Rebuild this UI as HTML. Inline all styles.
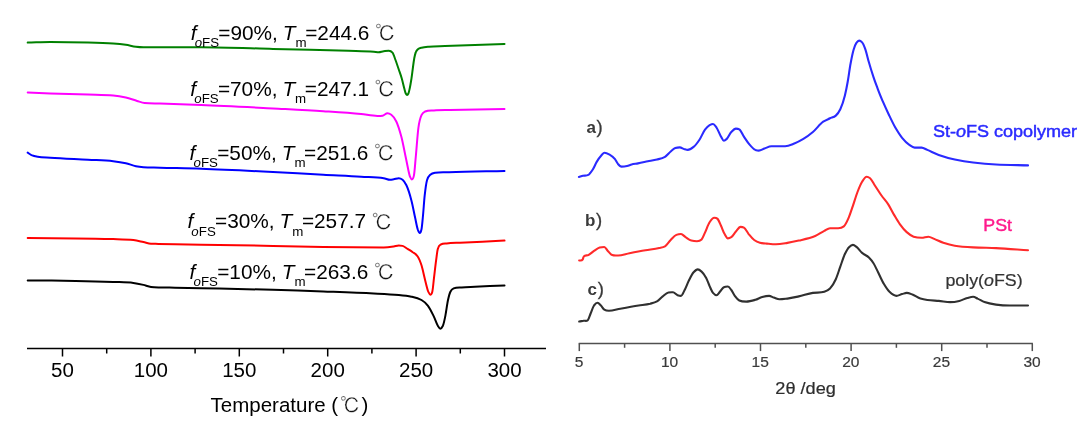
<!DOCTYPE html>
<html lang="en"><head><meta charset="utf-8"><title>DSC and XRD curves</title>
<style>
html,body{margin:0;padding:0;background:#fff;}
body{width:1092px;height:437px;overflow:hidden;font-family:"Liberation Sans","Noto Serif CJK SC",sans-serif;}
svg{display:block;}
.l{font-family:"Liberation Sans",sans-serif;font-size:20.8px;fill:#000;}
.sub{font-size:13.3px;}
.c{font-family:"Liberation Sans","IPAGothic","Noto Sans CJK JP",sans-serif;fill:#111;stroke:#fff;stroke-width:0.3px;}
.tk{font-family:"Liberation Sans",sans-serif;font-size:20.5px;fill:#000;text-anchor:middle;}
.rt{font-family:"Liberation Sans",sans-serif;font-size:14px;fill:#3a3a3a;text-anchor:middle;}
.cv{fill:none;stroke-width:2;stroke-linejoin:round;stroke-linecap:round;}
</style></head><body>
<svg width="1092" height="437" viewBox="0 0 1092 437">
<rect width="1092" height="437" fill="#fff"/>

<g class="cv">
<path d="M27.7 42.6C35.2 42.4 42.8 41.9 50.3 41.9C62.9 41.9 75.4 42.1 88.0 42.4C96.4 42.6 104.8 42.8 113.2 43.4C117.4 43.7 121.6 44.1 125.8 44.7C129.2 45.2 132.5 46.3 135.9 46.7C138.4 47.0 140.9 47.2 143.4 47.2C148.9 47.2 154.5 47.2 160.0 47.2C173.8 47.2 187.5 47.2 201.3 47.2C225.2 47.2 249.1 48.3 273.0 48.9C298.2 49.5 323.3 49.9 348.5 50.7C356.9 51.0 365.3 51.1 373.7 51.7C375.4 51.8 377.0 52.2 378.7 52.2C380.4 52.2 382.0 51.4 383.7 51.2C385.4 51.0 387.1 50.7 388.8 50.7C390.0 50.7 391.3 51.2 392.5 52.7C393.5 53.9 394.5 57.3 395.5 60.0C396.5 62.7 397.6 66.0 398.6 69.0C399.6 72.0 400.7 74.7 401.7 78.3C402.6 81.3 403.4 85.4 404.3 88.5C404.8 90.3 405.3 92.5 405.8 93.5C406.2 94.3 406.7 95.0 407.1 95.0C407.5 95.0 408.0 94.4 408.4 93.5C408.9 92.5 409.3 90.2 409.8 88.0C410.4 85.3 410.9 82.0 411.5 78.3C412.0 75.0 412.5 70.6 413.0 67.0C413.4 63.9 413.9 60.3 414.3 58.0C414.8 55.5 415.2 53.7 415.7 52.5C416.4 50.6 417.2 50.0 417.9 49.3C419.1 48.2 420.3 48.0 421.5 47.7C424.0 47.0 426.5 46.9 429.0 46.7C434.3 46.3 439.7 46.3 445.0 46.1C464.8 45.4 484.7 44.6 504.5 43.9" stroke="#008000"/>
<path d="M27.7 92.5C35.2 92.8 42.8 93.2 50.3 93.5C62.9 93.9 75.4 94.1 88.0 94.5C96.4 94.8 104.8 94.7 113.2 95.5C117.4 95.9 121.6 96.6 125.8 97.5C129.6 98.3 133.3 99.9 137.1 101.0C139.6 101.7 142.2 102.7 144.7 103.0C149.8 103.7 154.9 103.4 160.0 103.6C173.8 104.1 187.5 104.5 201.3 105.0C225.2 105.9 249.1 107.2 273.0 108.4C289.8 109.3 306.5 110.1 323.3 111.2C335.9 112.0 348.5 112.7 361.1 114.0C366.5 114.6 372.0 116.0 377.4 116.0C379.1 116.0 380.8 116.0 382.5 115.7C384.2 115.4 385.8 113.2 387.5 113.2C388.8 113.2 390.0 113.8 391.3 114.7C393.0 115.9 394.6 118.1 396.3 121.5C398.0 124.9 399.6 130.3 401.3 136.6C403.0 143.0 404.7 152.8 406.4 160.5C407.6 166.1 408.9 174.2 410.1 176.9C410.7 178.2 411.3 179.4 411.9 179.4C412.6 179.4 413.2 178.7 413.9 175.6C414.6 172.5 415.2 162.5 415.9 155.5C416.7 146.7 417.6 133.6 418.4 127.8C419.4 120.6 420.5 117.4 421.5 115.2C422.7 112.5 424.0 112.1 425.2 111.5C428.1 110.0 431.1 110.6 434.0 110.4C439.3 110.0 444.7 110.1 450.0 110.0C468.2 109.6 486.3 109.3 504.5 108.9" stroke="#ff00ff"/>
<path d="M27.7 152.6C29.0 153.5 30.2 154.6 31.5 155.2C33.6 156.1 35.6 156.4 37.7 156.7C41.9 157.4 46.1 157.4 50.3 157.7C62.9 158.6 75.4 159.0 88.0 159.7C96.4 160.2 104.8 160.3 113.2 161.2C117.4 161.7 121.6 162.3 125.8 163.2C129.2 163.9 132.5 165.6 135.9 166.2C138.4 166.7 140.9 167.0 143.4 167.2C148.9 167.6 154.5 167.5 160.0 167.7C173.8 168.1 187.5 168.3 201.3 168.8C225.2 169.6 249.1 170.8 273.0 172.0C289.8 172.8 306.5 173.8 323.3 174.7C335.9 175.4 348.5 175.9 361.1 176.7C368.6 177.2 376.2 177.0 383.7 178.2C385.8 178.5 387.9 179.8 390.0 179.8C391.3 179.8 392.5 179.5 393.8 179.3C395.5 179.0 397.1 178.2 398.8 178.2C400.1 178.2 401.3 178.8 402.6 179.8C403.9 180.8 405.1 182.7 406.4 185.3C408.1 188.7 409.7 194.0 411.4 200.4C412.7 205.2 413.9 212.2 415.2 218.0C416.0 221.8 416.9 226.9 417.7 229.3C418.4 231.2 419.0 233.1 419.7 233.1C420.3 233.1 420.9 232.1 421.5 229.3C422.0 226.9 422.5 220.7 423.0 215.5C423.6 209.6 424.1 200.5 424.7 195.4C425.5 188.4 426.2 183.1 427.0 180.3C428.1 176.3 429.2 175.7 430.3 174.7C432.0 173.2 433.6 173.0 435.3 172.7C439.9 171.8 444.5 172.3 449.1 172.2C467.6 171.6 486.0 171.4 504.5 171.0" stroke="#0000ff"/>
<path d="M27.7 238.1C43.6 238.2 59.6 238.2 75.5 238.4C88.1 238.5 100.6 238.7 113.2 239.1C119.9 239.3 126.7 239.3 133.4 240.1C136.7 240.5 140.1 241.4 143.4 242.1C145.9 242.6 148.5 243.5 151.0 243.7C153.5 243.9 156.0 243.8 158.5 243.9C164.0 244.0 169.5 244.1 175.0 244.2C183.8 244.4 192.5 244.5 201.3 244.7C225.2 245.1 249.1 245.5 273.0 245.9C289.8 246.2 306.5 246.7 323.3 246.9C343.4 247.2 363.6 247.4 383.7 247.4C387.1 247.4 390.4 246.9 393.8 246.4C395.5 246.1 397.1 245.4 398.8 245.4C400.1 245.4 401.3 245.6 402.6 245.9C404.3 246.4 405.9 247.9 407.6 248.9C409.3 250.0 411.0 250.9 412.7 252.2C414.4 253.4 416.0 254.0 417.7 256.5C419.0 258.4 420.2 261.4 421.5 265.3C422.7 269.1 424.0 275.7 425.2 280.4C426.2 284.4 427.3 289.4 428.3 291.7C429.0 293.2 429.6 294.7 430.3 294.7C431.0 294.7 431.6 294.3 432.3 291.7C432.9 289.5 433.4 282.6 434.0 277.9C434.7 272.1 435.4 265.5 436.1 260.3C436.7 256.1 437.2 251.0 437.8 248.9C438.9 244.9 440.0 245.1 441.1 244.4C442.9 243.2 444.8 243.6 446.6 243.4C451.1 242.9 455.5 242.9 460.0 242.7C474.8 242.0 489.7 241.3 504.5 240.6" stroke="#ff0000"/>
<path d="M27.7 280.4C43.6 280.6 59.6 280.6 75.5 280.9C88.1 281.1 100.6 281.4 113.2 281.9C119.9 282.2 126.7 282.1 133.4 282.9C136.7 283.3 140.1 284.1 143.4 284.9C145.9 285.5 148.5 286.6 151.0 286.9C153.5 287.2 156.0 287.3 158.5 287.4C164.0 287.6 169.5 287.6 175.0 287.7C183.8 287.9 192.5 288.0 201.3 288.2C225.2 288.7 249.1 289.1 273.0 289.8C289.8 290.3 306.5 290.9 323.3 291.5C340.1 292.1 356.9 292.6 373.7 293.5C382.1 293.9 390.4 294.2 398.8 295.0C403.0 295.4 407.2 295.8 411.4 296.7C414.8 297.4 418.1 298.0 421.5 300.0C423.6 301.2 425.7 302.9 427.8 305.6C429.9 308.2 431.9 312.6 434.0 316.9C435.3 319.6 436.5 323.7 437.8 325.7C438.6 327.0 439.5 328.7 440.3 328.7C441.2 328.7 442.0 327.6 442.9 325.7C443.7 323.9 444.6 319.7 445.4 315.6C446.2 311.5 447.1 304.3 447.9 300.5C448.7 296.7 449.6 293.4 450.4 291.7C451.5 289.5 452.6 288.9 453.7 288.4C456.4 287.1 459.0 287.6 461.7 287.4C466.1 287.0 470.6 287.0 475.0 286.8C484.8 286.3 494.7 285.9 504.5 285.4" stroke="#000000"/>
</g>
<g stroke="#000" stroke-width="1.5" fill="none">
<path d="M27 348.5H546"/>
<path d="M62.5 348.5V356.5"/>
<path d="M150.9 348.5V356.5"/>
<path d="M239.3 348.5V356.5"/>
<path d="M327.7 348.5V356.5"/>
<path d="M416.1 348.5V356.5"/>
<path d="M504.5 348.5V356.5"/>
<path d="M106.7 348.5V353.5"/>
<path d="M195.1 348.5V353.5"/>
<path d="M283.5 348.5V353.5"/>
<path d="M371.9 348.5V353.5"/>
<path d="M460.3 348.5V353.5"/>
</g>
<text class="tk" x="62.5" y="377.4">50</text>
<text class="tk" x="150.9" y="377.4">100</text>
<text class="tk" x="239.3" y="377.4">150</text>
<text class="tk" x="327.7" y="377.4">200</text>
<text class="tk" x="416.1" y="377.4">250</text>
<text class="tk" x="504.5" y="377.4">300</text>
<text class="l" x="210.6" y="412" style="font-size:20.5px">Temperature (<tspan class="c" x="340" dy="1.2">℃</tspan><tspan x="361.5" dy="-1.2">)</tspan></text>
<text class="l" transform="translate(0.0 39.5)"><tspan x="190.7" font-style="italic">f</tspan><tspan class="sub" dy="7.5" dx="-1.8"><tspan font-style="italic">o</tspan>FS</tspan><tspan dy="-7.5" x="218.3">=90%, </tspan><tspan font-style="italic" x="282.8">T</tspan><tspan class="sub" dy="7.5">m</tspan><tspan dy="-7.5" x="305.2">=244.6 </tspan><tspan class="c" x="375.0" dy="1.5">℃</tspan></text>
<text class="l" transform="translate(-0.4 95.5)"><tspan x="190.7" font-style="italic">f</tspan><tspan class="sub" dy="7.5" dx="-1.8"><tspan font-style="italic">o</tspan>FS</tspan><tspan dy="-7.5" x="218.3">=70%, </tspan><tspan font-style="italic" x="282.8">T</tspan><tspan class="sub" dy="7.5">m</tspan><tspan dy="-7.5" x="305.2">=247.1 </tspan><tspan class="c" x="375.0" dy="1.5">℃</tspan></text>
<text class="l" transform="translate(-1.1 159.5)"><tspan x="190.7" font-style="italic">f</tspan><tspan class="sub" dy="7.5" dx="-1.8"><tspan font-style="italic">o</tspan>FS</tspan><tspan dy="-7.5" x="218.3">=50%, </tspan><tspan font-style="italic" x="282.8">T</tspan><tspan class="sub" dy="7.5">m</tspan><tspan dy="-7.5" x="305.2">=251.6 </tspan><tspan class="c" x="375.0" dy="1.5">℃</tspan></text>
<text class="l" transform="translate(-3.3 228.0)"><tspan x="190.7" font-style="italic">f</tspan><tspan class="sub" dy="7.5" dx="-1.8"><tspan font-style="italic">o</tspan>FS</tspan><tspan dy="-7.5" x="218.3">=30%, </tspan><tspan font-style="italic" x="282.8">T</tspan><tspan class="sub" dy="7.5">m</tspan><tspan dy="-7.5" x="305.2">=257.7 </tspan><tspan class="c" x="375.0" dy="1.5">℃</tspan></text>
<text class="l" transform="translate(-1.1 278.6)"><tspan x="190.7" font-style="italic">f</tspan><tspan class="sub" dy="7.5" dx="-1.8"><tspan font-style="italic">o</tspan>FS</tspan><tspan dy="-7.5" x="218.3">=10%, </tspan><tspan font-style="italic" x="282.8">T</tspan><tspan class="sub" dy="7.5">m</tspan><tspan dy="-7.5" x="305.2">=263.6 </tspan><tspan class="c" x="375.0" dy="1.5">℃</tspan></text>
<g class="cv" style="stroke-width:2.1">
<path d="M578.9 177.0C580.3 176.6 581.6 176.1 583.0 175.8C584.8 175.4 586.5 175.9 588.3 174.9C589.1 174.5 589.8 173.4 590.6 172.5C591.4 171.5 592.3 170.4 593.1 169.0C594.3 167.0 595.5 163.9 596.7 161.9C598.2 159.3 599.8 157.1 601.3 155.5C602.4 154.4 603.4 152.8 604.5 152.8C606.2 152.8 607.9 153.7 609.6 154.6C611.4 155.6 613.2 156.9 615.0 159.2C615.9 160.4 616.9 162.6 617.8 163.7C619.0 165.1 620.3 166.6 621.5 166.6C623.3 166.6 625.2 166.4 627.0 166.0C628.5 165.7 630.1 164.9 631.6 164.5C633.7 164.0 635.9 163.8 638.0 163.4C641.3 162.8 644.5 162.0 647.8 161.3C650.9 160.7 653.9 160.3 657.0 159.5C659.7 158.8 662.3 158.4 665.0 156.8C666.9 155.7 668.8 153.1 670.7 151.5C672.2 150.2 673.8 148.6 675.3 148.1C676.8 147.6 678.3 147.4 679.8 147.4C681.3 147.4 682.9 148.8 684.4 149.2C685.5 149.5 686.7 149.9 687.8 149.9C689.7 149.9 691.7 148.4 693.6 146.9C695.5 145.4 697.4 142.8 699.3 140.0C701.2 137.2 703.1 132.2 705.0 129.7C706.5 127.7 708.1 126.1 709.6 125.2C710.7 124.6 711.9 124.0 713.0 124.0C714.2 124.0 715.3 125.9 716.5 127.5C718.0 129.6 719.5 134.1 721.0 136.6C721.9 138.2 722.9 140.7 723.8 140.7C724.8 140.7 725.8 139.8 726.8 138.9C728.3 137.5 729.8 133.6 731.3 132.0C732.8 130.4 734.4 128.6 735.9 128.6C737.0 128.6 738.2 128.7 739.3 129.3C740.8 130.2 742.4 134.3 743.9 136.6C745.8 139.4 747.7 142.4 749.6 144.6C751.5 146.8 753.5 149.1 755.4 149.9C756.5 150.3 757.7 150.6 758.8 150.6C760.7 150.6 762.6 149.2 764.5 148.5C766.8 147.7 769.1 146.2 771.4 146.2C776.0 146.2 780.5 146.2 785.1 146.2C788.2 146.2 791.2 144.7 794.3 143.5C797.3 142.3 800.4 140.7 803.4 138.9C806.6 137.0 809.7 134.7 812.9 132.0C816.3 129.1 819.8 124.0 823.2 121.7C825.5 120.2 827.7 119.4 830.0 118.3C831.9 117.4 833.9 117.3 835.8 115.6C837.3 114.3 838.8 112.3 840.3 109.2C841.8 106.0 843.4 101.6 844.9 95.5C845.8 91.8 846.8 87.0 847.7 81.8C848.7 76.4 849.6 68.7 850.6 63.5C851.6 58.1 852.6 53.0 853.6 49.7C854.5 46.6 855.5 44.2 856.4 42.9C857.3 41.6 858.2 40.6 859.1 40.6C860.1 40.6 861.1 41.3 862.1 42.4C863.1 43.5 864.1 45.9 865.1 48.6C866.4 52.0 867.6 58.0 868.9 62.3C870.4 67.6 872.0 72.6 873.5 77.2C875.0 81.8 876.6 85.8 878.1 89.8C879.6 93.8 881.2 97.6 882.7 101.2C884.6 105.6 886.5 109.7 888.4 113.7C890.7 118.5 893.0 123.5 895.3 127.5C897.6 131.4 899.8 135.0 902.1 137.8C904.4 140.6 906.7 143.0 909.0 144.6C910.9 145.9 912.8 147.6 914.7 147.6C917.0 147.6 919.3 147.6 921.6 147.6C923.5 147.6 925.4 149.1 927.3 149.9C931.1 151.5 934.9 153.5 938.7 154.9C944.1 156.8 949.4 158.3 954.8 159.5C960.9 160.8 967.0 161.8 973.1 162.5C980.7 163.4 988.4 164.1 996.0 164.5C1006.7 165.1 1017.3 165.1 1028.0 165.4" stroke="#2a2aff"/>
<path d="M579.2 260.5C580.3 260.2 581.5 261.1 582.6 259.6C583.0 259.1 583.3 257.2 583.7 256.7C585.2 254.5 586.8 255.9 588.3 255.1C590.2 254.2 592.1 252.2 594.0 250.9C595.9 249.6 597.8 248.0 599.7 247.5C601.2 247.1 602.8 247.0 604.3 247.0C605.5 247.0 606.6 249.7 607.8 250.9C609.3 252.4 610.8 254.6 612.3 255.1C614.2 255.8 616.2 255.5 618.1 255.5C621.9 255.5 625.7 253.9 629.5 253.2C634.8 252.2 640.2 251.2 645.5 250.3C650.1 249.5 654.6 249.0 659.2 248.0C661.1 247.6 663.1 247.5 665.0 246.4C666.9 245.3 668.8 241.9 670.7 240.0C672.6 238.1 674.5 235.7 676.4 234.9C677.9 234.3 679.5 234.0 681.0 234.0C682.5 234.0 684.1 236.2 685.6 237.2C687.5 238.4 689.4 240.1 691.3 240.6C693.2 241.1 695.1 241.3 697.0 241.3C698.5 241.3 700.1 241.0 701.6 239.5C702.7 238.4 703.9 235.0 705.0 232.6C706.5 229.3 708.1 224.6 709.6 222.3C711.1 220.0 712.7 217.8 714.2 217.8C715.3 217.8 716.5 217.9 717.6 218.9C718.7 219.9 719.9 223.4 721.0 225.8C722.2 228.3 723.3 231.8 724.5 233.8C725.6 235.8 726.8 238.4 727.9 238.4C729.0 238.4 730.2 237.9 731.3 237.2C732.8 236.2 734.4 233.2 735.9 231.5C737.4 229.8 739.0 226.9 740.5 226.9C741.6 226.9 742.8 227.0 743.9 227.6C745.4 228.4 747.0 231.9 748.5 233.8C750.4 236.1 752.3 238.6 754.2 240.0C756.1 241.4 758.0 242.2 759.9 242.7C762.2 243.3 764.5 243.4 766.8 243.6C769.8 243.9 772.9 244.3 775.9 244.3C779.7 244.3 783.6 243.5 787.4 242.9C791.2 242.3 795.0 241.5 798.8 240.6C804.3 239.3 809.7 238.3 815.2 236.0C818.2 234.7 821.3 232.4 824.3 230.9C826.2 229.9 828.1 228.2 830.0 228.2C832.7 228.2 835.4 228.2 838.1 228.2C840.0 228.2 841.9 228.0 843.8 226.4C845.3 225.1 846.9 221.8 848.4 218.4C849.9 215.1 851.4 210.1 852.9 205.8C854.4 201.4 856.0 196.0 857.5 192.0C859.0 188.0 860.6 184.1 862.1 181.7C863.6 179.3 865.2 176.7 866.7 176.7C867.8 176.7 869.0 177.4 870.1 178.3C871.6 179.5 873.2 182.9 874.7 185.2C877.0 188.6 879.2 192.3 881.5 195.5C883.8 198.8 886.1 201.0 888.4 204.6C890.3 207.6 892.2 211.7 894.1 214.9C896.0 218.1 897.9 221.5 899.8 224.1C902.1 227.3 904.4 230.1 906.7 232.1C909.0 234.1 911.3 235.9 913.6 236.7C916.3 237.6 918.9 237.8 921.6 237.8C923.9 237.8 926.1 236.7 928.4 236.7C930.3 236.7 932.3 238.1 934.2 238.9C937.2 240.1 940.3 241.8 943.3 242.8C947.1 244.1 951.0 245.2 954.8 245.8C960.9 246.8 967.0 247.1 973.1 247.4C980.7 247.8 988.4 247.8 996.0 248.1C1006.7 248.6 1017.3 249.5 1028.0 250.2" stroke="#ff2a2a"/>
<path d="M579.2 321.5C580.7 321.3 582.2 321.0 583.7 320.8C585.1 320.6 586.4 321.4 587.8 320.2C588.7 319.4 589.7 315.7 590.6 313.5C591.7 310.8 592.9 307.1 594.0 305.5C595.2 303.9 596.3 302.8 597.5 302.8C598.6 302.8 599.8 304.4 600.9 305.5C602.0 306.6 603.2 308.9 604.3 309.6C605.8 310.6 607.4 310.8 608.9 310.8C612.7 310.8 616.5 309.4 620.3 308.7C626.4 307.6 632.5 306.5 638.6 305.5C642.4 304.9 646.3 304.6 650.1 303.7C652.4 303.1 654.7 302.7 657.0 301.4C658.9 300.3 660.8 297.9 662.7 296.4C664.6 294.9 666.5 292.9 668.4 292.5C669.9 292.1 671.5 292.2 673.0 292.2C674.5 292.2 676.1 294.7 677.6 295.2C678.7 295.6 679.9 295.9 681.0 295.9C682.1 295.9 683.3 292.7 684.4 290.6C685.9 287.8 687.5 283.3 689.0 280.3C690.5 277.3 692.1 274.0 693.6 272.3C695.0 270.8 696.3 269.4 697.7 269.4C699.0 269.4 700.3 270.5 701.6 271.6C703.1 272.9 704.7 275.2 706.2 278.1C707.3 280.2 708.5 283.6 709.6 286.1C710.7 288.6 711.9 291.6 713.0 292.9C714.2 294.3 715.3 295.2 716.5 295.2C717.6 295.2 718.8 293.0 719.9 291.8C721.2 290.4 722.5 287.8 723.8 287.2C725.2 286.5 726.5 286.5 727.9 286.5C729.0 286.5 730.2 288.5 731.3 290.0C732.5 291.5 733.6 294.3 734.8 295.9C736.3 297.9 737.8 299.8 739.3 300.5C741.6 301.6 743.9 301.6 746.2 301.6C749.3 301.6 752.3 300.7 755.4 299.8C757.7 299.1 759.9 297.6 762.2 297.0C764.5 296.4 766.8 295.9 769.1 295.9C770.6 295.9 772.2 297.0 773.7 297.5C775.6 298.1 777.5 299.3 779.4 299.3C782.1 299.3 784.7 298.9 787.4 298.6C791.2 298.1 795.0 297.2 798.8 296.4C803.5 295.4 808.2 293.6 812.9 292.9C816.7 292.3 820.5 293.0 824.3 291.8C826.2 291.2 828.1 290.3 830.0 288.4C831.9 286.5 833.9 283.4 835.8 279.2C837.3 276.0 838.8 270.8 840.3 266.6C841.8 262.4 843.4 257.2 844.9 254.0C846.3 251.1 847.6 248.6 849.0 247.2C850.3 245.9 851.6 244.9 852.9 244.9C854.2 244.9 855.5 246.2 856.8 247.2C858.6 248.6 860.3 251.4 862.1 252.9C864.4 254.9 866.6 255.3 868.9 257.5C870.4 259.0 872.0 260.8 873.5 263.2C875.0 265.6 876.6 269.2 878.1 272.3C880.0 276.1 881.9 280.6 883.8 283.8C885.7 287.0 887.6 290.0 889.5 291.8C891.8 294.0 894.1 295.9 896.4 295.9C898.3 295.9 900.2 294.6 902.1 294.1C903.6 293.7 905.2 292.9 906.7 292.9C908.6 292.9 910.5 293.8 912.4 294.5C915.1 295.5 917.7 297.8 920.4 298.6C922.7 299.3 925.0 299.7 927.3 300.0C931.1 300.5 934.9 300.6 938.7 300.9C942.5 301.2 946.4 302.1 950.2 302.1C953.2 302.1 956.3 301.6 959.3 300.9C962.0 300.3 964.6 298.7 967.3 298.0C969.2 297.5 971.2 296.8 973.1 296.8C974.6 296.8 976.1 297.9 977.6 298.6C979.9 299.6 982.2 301.3 984.5 302.1C988.3 303.5 992.2 304.1 996.0 304.6C1000.6 305.2 1005.1 305.5 1009.7 305.5C1015.8 305.5 1021.9 305.5 1028.0 305.5" stroke="#303030"/>
</g>
<g stroke="#505050" stroke-width="1.5" fill="none">
<path d="M578.7 343.4H1032.9"/>
<path d="M579.3 343.4V351.1"/>
<path d="M669.9 343.4V351.1"/>
<path d="M760.5 343.4V351.1"/>
<path d="M851.1 343.4V351.1"/>
<path d="M941.7 343.4V351.1"/>
<path d="M1032.3 343.4V351.1"/>
<path d="M624.6 343.4V347.8"/>
<path d="M715.2 343.4V347.8"/>
<path d="M805.8 343.4V347.8"/>
<path d="M896.4 343.4V347.8"/>
<path d="M987.0 343.4V347.8"/>
</g>
<text transform="translate(579.0 366.9) scale(1.070 1)" text-anchor="middle" style="font-size:14.5px;fill:#3a3a3a;stroke:#3a3a3a;stroke-width:0.2px">5</text>
<text transform="translate(669.6 366.9) scale(1.070 1)" text-anchor="middle" style="font-size:14.5px;fill:#3a3a3a;stroke:#3a3a3a;stroke-width:0.2px">10</text>
<text transform="translate(760.2 366.9) scale(1.070 1)" text-anchor="middle" style="font-size:14.5px;fill:#3a3a3a;stroke:#3a3a3a;stroke-width:0.2px">15</text>
<text transform="translate(850.8 366.9) scale(1.070 1)" text-anchor="middle" style="font-size:14.5px;fill:#3a3a3a;stroke:#3a3a3a;stroke-width:0.2px">20</text>
<text transform="translate(941.4 366.9) scale(1.070 1)" text-anchor="middle" style="font-size:14.5px;fill:#3a3a3a;stroke:#3a3a3a;stroke-width:0.2px">25</text>
<text transform="translate(1032.0 366.9) scale(1.070 1)" text-anchor="middle" style="font-size:14.5px;fill:#3a3a3a;stroke:#3a3a3a;stroke-width:0.2px">30</text>
<text transform="translate(805.6 394.3) scale(1.100 1)" text-anchor="middle" style="font-size:16.5px;fill:#2e2e2e;stroke:#2e2e2e;stroke-width:0.2px">2θ /deg</text>
<text transform="translate(586.4 133.1) scale(1.000 1)" text-anchor="start" style="font-size:17px;font-weight:bold;fill:#3a3a3a">a<tspan style="font-weight:normal;font-size:18.5px;stroke:#3a3a3a;stroke-width:0.3px" dx="0.6" dy="0.3">)</tspan></text>
<text transform="translate(585.0 226.0) scale(1.000 1)" text-anchor="start" style="font-size:17px;font-weight:bold;fill:#3a3a3a">b<tspan style="font-weight:normal;font-size:18.5px;stroke:#3a3a3a;stroke-width:0.3px" dx="0.6" dy="0.3">)</tspan></text>
<text transform="translate(587.6 295.0) scale(1.000 1)" text-anchor="start" style="font-size:17px;font-weight:bold;fill:#3a3a3a">c<tspan style="font-weight:normal;font-size:18.5px;stroke:#3a3a3a;stroke-width:0.3px" dx="0.6" dy="0.3">)</tspan></text>
<text transform="translate(932.9 136.9) scale(1.100 1)" text-anchor="start" style="font-size:16.4px;fill:#2a2aff;stroke:#2a2aff;stroke-width:0.45px">St-<tspan font-style="italic">o</tspan>FS copolymer</text>
<text transform="translate(983.3 230.9) scale(1.100 1)" text-anchor="start" style="font-size:16.2px;fill:#ff1a8c;stroke:#ff1a8c;stroke-width:0.4px">PSt</text>
<text transform="translate(945.4 286.1) scale(1.100 1)" text-anchor="start" style="font-size:16.2px;fill:#333;stroke:#333;stroke-width:0.2px">poly(<tspan font-style="italic">o</tspan>FS)</text>
</svg></body></html>
